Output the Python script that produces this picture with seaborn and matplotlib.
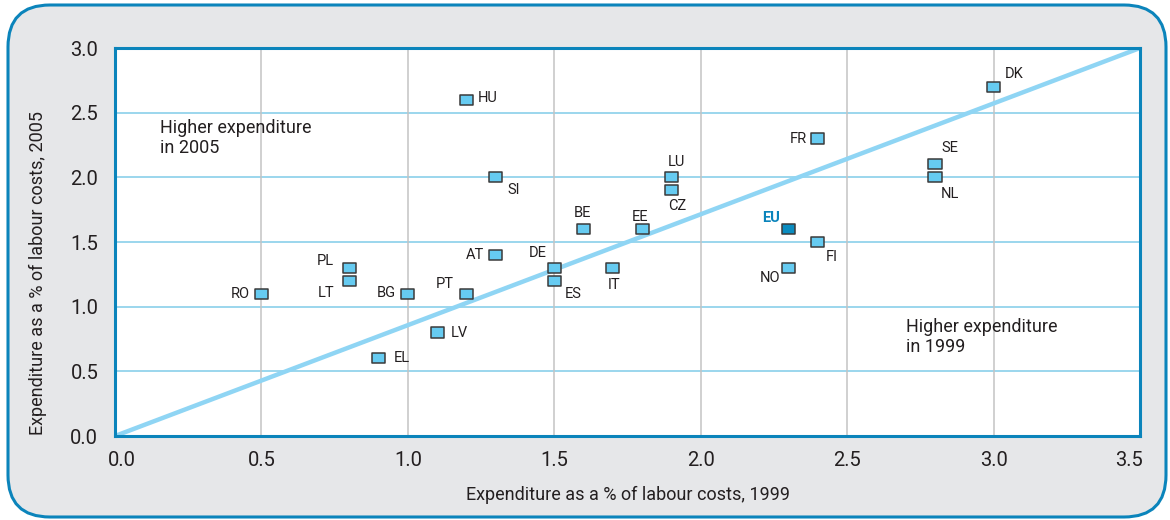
import numpy as np
import pandas as pd
import matplotlib
matplotlib.use("Agg")
import matplotlib.pyplot as plt
import matplotlib.transforms as mtransforms
from matplotlib.patches import FancyBboxPatch
from matplotlib.path import Path
from matplotlib.markers import MarkerStyle
import seaborn as sns

sns.set_style("white")
plt.rcParams['font.family'] = ['Roboto', 'DejaVu Sans']

# data
countries = ['RO', 'PL', 'LT', 'BG', 'PT', 'AT', 'HU', 'SI', 'LV', 'EL', 'DE', 'ES',
             'BE', 'IT', 'EE', 'LU', 'CZ', 'FR', 'EU', 'NO', 'FI', 'SE', 'NL', 'DK']
exp_1999 = [0.5, 0.8, 0.8, 1.0, 1.2, 1.3, 1.2, 1.3, 1.1, 0.9, 1.5, 1.5,
            1.6, 1.7, 1.8, 1.9, 1.9, 2.4, 2.3, 2.3, 2.4, 2.8, 2.8, 3.0]
exp_2005 = [1.1, 1.3, 1.2, 1.1, 1.1, 1.4, 2.6, 2.0, 0.8, 0.6, 1.3, 1.2,
            1.6, 1.3, 1.6, 2.0, 1.9, 2.3, 1.6, 1.3, 1.5, 2.1, 2.0, 2.7]
diag_x = [0.0, 3.5]
diag_y = [0.0, 3.0]
x_ticks = [0.0, 0.5, 1.0, 1.5, 2.0, 2.5, 3.0, 3.5]
y_ticks = [0.0, 0.5, 1.0, 1.5, 2.0, 2.5, 3.0]

# label placement: (dx px, dy px down, alignment)
label_pos = {
    'RO': (-12, 0, 'right'), 'PL': (-15, -7, 'right'), 'LT': (-15, 12, 'right'),
    'BG': (-12, -1, 'right'), 'PT': (-13, -10, 'right'), 'AT': (-12, 0, 'right'),
    'HU': (11, -2, 'left'), 'SI': (12, 13, 'left'), 'LV': (14, 0, 'left'),
    'EL': (15, 0, 'left'), 'DE': (-8, -15, 'right'), 'ES': (10, 13, 'left'),
    'BE': (-1, -16, 'center'), 'IT': (1, 17, 'center'), 'EE': (-2, -12, 'center'),
    'LU': (5, -15, 'center'), 'CZ': (6, 16, 'center'), 'FR': (-11, 0, 'right'),
    'EU': (-9, -11, 'right'), 'NO': (-8, 10, 'right'), 'FI': (8, 15, 'left'),
    'SE': (6, -16, 'left'), 'NL': (6, 17, 'left'), 'DK': (11, -13, 'left'),
}

df = pd.DataFrame({'country': countries, 'x': exp_1999, 'y': exp_2005})
df['group'] = np.where(df['country'] == 'EU', 'EU', 'country')

blue = '#0b84bb'
light = '#66cbf1'
text_c = '#231f20'

fig = plt.figure(figsize=(11.7, 5.2), dpi=100, facecolor='white')
box = FancyBboxPatch((0.08, 0.03), 11.58, 5.12,
                     boxstyle="round,pad=0,rounding_size=0.42",
                     transform=fig.dpi_scale_trans, facecolor='#e6e7e9',
                     edgecolor=blue, linewidth=2.2, zorder=-5)
fig.patches.append(box)

ax = fig.add_axes([115 / 1170, 84 / 520, 1025 / 1170, 388 / 520])
ax.set_facecolor('white')

for yv in y_ticks[1:-1]:
    ax.axhline(yv, color='#80cbe8', lw=1.1, zorder=1)
for xv in x_ticks[1:-1]:
    ax.axvline(xv, color='#c3c3c3', lw=1.1, zorder=1)

sns.lineplot(x=diag_x, y=diag_y, ax=ax, color='#8fd5f4', lw=3.2, zorder=2)

rect = MarkerStyle(Path([(-1.3, -1), (1.3, -1), (1.3, 1), (-1.3, 1), (-1.3, -1)],
                        [Path.MOVETO, Path.LINETO, Path.LINETO, Path.LINETO, Path.CLOSEPOLY]))
sns.scatterplot(data=df, x='x', y='y', hue='group',
                palette={'country': light, 'EU': '#0a8cc0'},
                marker=rect, s=90, edgecolor='#3a3a3a', linewidth=1.1,
                legend=False, ax=ax, zorder=3, clip_on=False)

px = 0.72
for c, xv, yv in zip(countries, exp_1999, exp_2005):
    dx, dy, ha = label_pos[c]
    if c == 'EU':
        ax.annotate(c, (xv, yv), xytext=(dx * px, -dy * px), textcoords='offset points',
                    ha=ha, va='center', fontsize=10.5, color=blue, fontweight='bold')
    else:
        ax.annotate(c, (xv, yv), xytext=(dx * px, -dy * px), textcoords='offset points',
                    ha=ha, va='center', fontsize=10.5, color=text_c)

ax.text(0.154, 2.45, 'Higher expenditure\nin 2005', ha='left', va='top',
        fontsize=13, color=text_c, linespacing=1.1)
ax.text(2.70, 0.91, 'Higher expenditure\nin 1999', ha='left', va='top',
        fontsize=13, color=text_c, linespacing=1.1)

ax.set_xlim(0, 3.5)
ax.set_ylim(0, 3.0)
ax.set_xticks(x_ticks)
ax.set_yticks(y_ticks)
ax.set_xticklabels([f'{v:.1f}' for v in x_ticks])
ax.set_yticklabels([f'{v:.1f}' for v in y_ticks])
ax.tick_params(axis='both', length=0, labelsize=14.5, colors=text_c)
ax.tick_params(axis='x', pad=11)
ax.tick_params(axis='y', pad=12)
ax.grid(False)
for sp in ax.spines.values():
    sp.set_color(blue)
    sp.set_linewidth(2.2)
    sp.set_zorder(4)

# end tick labels sit slightly inside the frame
xl = ax.get_xticklabels()
xl[0].set_transform(xl[0].get_transform() + mtransforms.ScaledTranslation(0.07, 0, fig.dpi_scale_trans))
xl[-1].set_transform(xl[-1].get_transform() + mtransforms.ScaledTranslation(-0.11, 0, fig.dpi_scale_trans))

ax.set_xlabel('Expenditure as a % of labour costs, 1999', fontsize=13, color=text_c)
ax.set_ylabel('Expenditure as a % of labour costs, 2005', fontsize=13, color=text_c)
ax.xaxis.set_label_coords(0.5, -0.128)
ax.yaxis.set_label_coords(-0.066, 0.42)

fig.savefig('out.png', dpi=100, facecolor='white')
